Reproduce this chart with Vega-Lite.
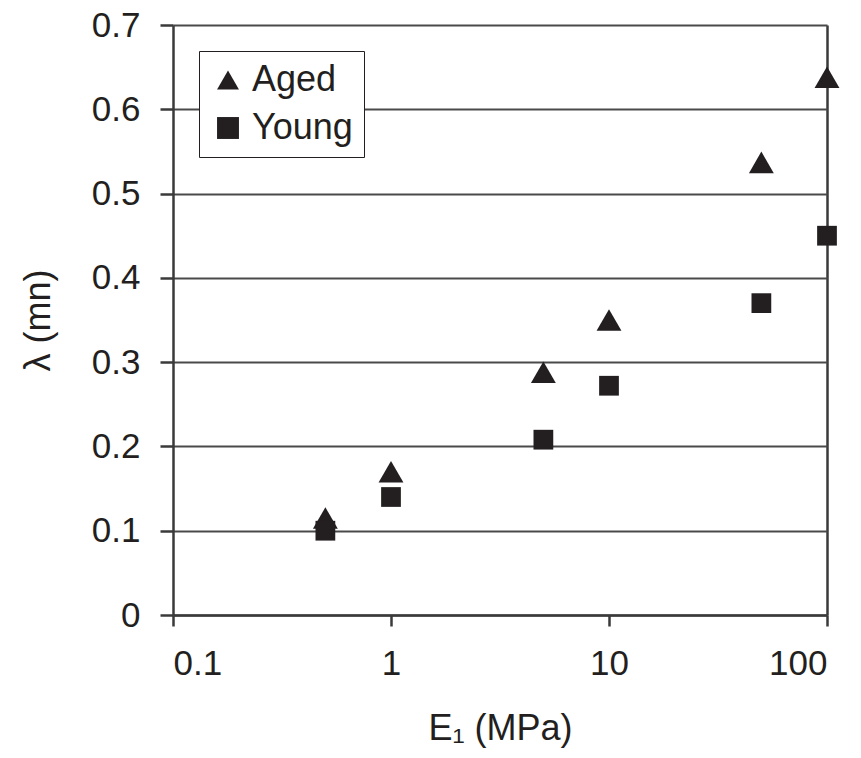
{
  "$schema": "https://vega.github.io/schema/vega-lite/v6.json",
  "width": 654,
  "height": 590,
  "autosize": "none",
  "padding": {"left": 173, "top": 25, "right": 34, "bottom": 143},
  "background": "white",
  "config": {
    "view": {"stroke": null},
    "font": "Liberation Sans",
    "axis": {
      "labelFont": "Liberation Sans",
      "titleFont": "Liberation Sans",
      "labelFontSize": 35,
      "titleFontSize": 36,
      "labelColor": "#231f20",
      "titleColor": "#231f20",
      "titleFontWeight": "normal",
      "domainColor": "#3a3a3a",
      "domainWidth": 2.5,
      "tickColor": "#3a3a3a",
      "tickWidth": 2.5,
      "gridColor": "#4a4a4a",
      "gridWidth": 2
    }
  },
  "data": {
    "values": [
      {"E": 0.5, "lambda": 0.115, "group": "Aged"},
      {"E": 1, "lambda": 0.17, "group": "Aged"},
      {"E": 5, "lambda": 0.288, "group": "Aged"},
      {"E": 10, "lambda": 0.35, "group": "Aged"},
      {"E": 50, "lambda": 0.537, "group": "Aged"},
      {"E": 100, "lambda": 0.638, "group": "Aged"},
      {"E": 0.5, "lambda": 0.10, "group": "Young"},
      {"E": 1, "lambda": 0.14, "group": "Young"},
      {"E": 5, "lambda": 0.208, "group": "Young"},
      {"E": 10, "lambda": 0.272, "group": "Young"},
      {"E": 50, "lambda": 0.37, "group": "Young"},
      {"E": 100, "lambda": 0.45, "group": "Young"}
    ]
  },
  "encoding": {
    "x": {
      "field": "E",
      "type": "quantitative",
      "scale": {"type": "log", "domain": [0.1, 100], "nice": false},
      "axis": {
        "title": "E₁ (MPa)",
        "values": [0.1, 1, 10, 100],
        "format": "~g",
        "tickSize": 11,
        "labelPadding": 20,
        "titlePadding": 30,
        "grid": true,
        "gridOpacity": {"condition": {"test": "datum.value == 100", "value": 1}, "value": 0},
        "gridWidth": 2.5,
        "gridColor": "#3a3a3a"
      }
    },
    "y": {
      "field": "lambda",
      "type": "quantitative",
      "scale": {"domain": [0, 0.7], "nice": false},
      "axis": {
        "title": "λ (mn)",
        "values": [0, 0.1, 0.2, 0.3, 0.4, 0.5, 0.6, 0.7],
        "format": "~g",
        "tickSize": 13,
        "labelPadding": 20,
        "titlePadding": 34,
        "grid": true
      }
    },
    "shape": {
      "field": "group",
      "type": "nominal",
      "scale": {"domain": ["Aged", "Young"], "range": ["triangle-up", "square"]},
      "legend": {
        "title": null,
        "orient": "none",
        "legendX": 26,
        "legendY": 26,
        "padding": 11,
        "strokeColor": "#231f20",
        "fillColor": "white",
        "symbolSize": 480,
        "symbolFillColor": "#231f20",
        "symbolStrokeColor": "#231f20",
        "labelFontSize": 36,
        "labelFont": "Liberation Sans",
        "labelColor": "#231f20",
        "labelOffset": 6,
        "rowPadding": 12,
        "encode": {
          "legend": {"update": {"strokeWidth": {"value": 2}}},
          "symbols": {"update": {"size": [{"test": "datum.label == 'Aged'", "value": 480}, {"value": 320}]}}
        }
      }
    }
  },
  "layer": [
    {
      "transform": [{"filter": "datum.group == 'Aged'"}],
      "mark": {"type": "point", "filled": true, "opacity": 1, "color": "#231f20", "clip": false, "size": 620}
    },
    {
      "transform": [{"filter": "datum.group == 'Young'"}],
      "mark": {"type": "point", "filled": true, "opacity": 1, "color": "#231f20", "clip": false, "size": 390}
    }
  ]
}
